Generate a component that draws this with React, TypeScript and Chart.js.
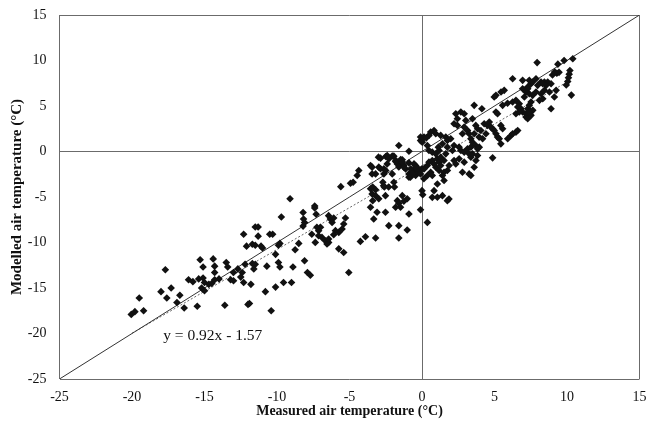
import { useEffect, useRef } from "react";
import { Chart, registerables } from "chart.js";

Chart.register(...registerables);

const axisMin = -25;
const axisMax = 15;
const tickStep = 5;
const xTitle = "Measured air temperature (°C)";
const yTitle = "Modelled air temperature (°C)";
const fitSlope = 0.92;
const fitIntercept = -1.57;
const fitFrom = -20;
const fitTo = 10.3;
const fitLabel = "y = 0.92x - 1.57";
const fitLabelAt = [-17.85, -20.3];

const coldPoints: number[][] = [
  [-20.05, -17.9], [-19.8, -17.6], [-19.2, -17.5], [-19.5, -16.1], [-18.0, -15.4], [-17.6, -16.1],
  [-17.3, -15.0], [-17.7, -13.0], [-16.7, -15.8], [-16.9, -16.6], [-16.4, -17.2], [-15.5, -17.0],
  [-16.1, -14.1], [-15.8, -14.3], [-15.4, -14.0], [-15.1, -13.9], [-15.0, -14.4], [-14.7, -14.6],
  [-15.2, -15.0], [-15.0, -15.3], [-14.5, -14.5], [-14.3, -14.1], [-14.0, -14.0], [-15.3, -11.9],
  [-14.4, -11.8], [-15.1, -12.7], [-14.3, -12.6], [-14.3, -13.3], [-13.5, -12.2], [-13.4, -12.7],
  [-13.0, -13.3], [-13.2, -14.1], [-13.0, -14.2], [-12.7, -12.9], [-12.4, -13.3], [-12.2, -12.4],
  [-12.5, -13.8], [-12.3, -14.4], [-11.8, -14.6], [-11.7, -12.3], [-11.5, -12.4], [-11.6, -12.9],
  [-10.7, -12.6], [-9.9, -12.2], [-9.8, -12.7], [-10.1, -11.3], [-12.3, -9.1], [-11.5, -8.3],
  [-11.3, -8.3], [-11.3, -9.3], [-10.5, -9.1], [-10.3, -9.1], [-12.1, -10.4], [-11.7, -10.2],
  [-11.5, -10.3], [-11.1, -10.4], [-11.0, -10.6], [-9.9, -10.3], [-9.8, -10.1], [-8.5, -10.1],
  [-8.75, -10.8], [-8.2, -8.2], [-8.1, -7.8], [-10.8, -15.4], [-10.4, -17.5], [-11.9, -16.7],
  [-13.6, -16.9], [-12.0, -16.8], [-10.1, -14.9], [-9.55, -14.4], [-9.0, -14.4], [-8.9, -12.7],
  [-8.1, -12.0], [-7.9, -13.3], [-7.7, -13.6], [-7.6, -9.1], [-9.1, -5.2], [-9.7, -7.2],
  [-8.2, -6.7], [-8.17, -7.42],
];

const coolPoints: number[][] = [
  [-7.4, -6.0], [-7.4, -6.2], [-7.3, -6.9], [-6.44, -7.05], [-6.32, -7.42], [-6.09, -7.3],
  [-6.2, -7.79], [-5.28, -7.3], [-5.4, -7.97], [-5.51, -8.52], [-5.74, -8.89], [-5.97, -8.7],
  [-6.09, -9.15], [-7.0, -8.33], [-7.25, -8.33], [-7.13, -8.7], [-7.13, -9.26], [-6.9, -9.44],
  [-7.36, -9.99], [-6.67, -9.8], [-6.44, -9.99], [-6.55, -10.17], [-6.44, -9.62], [-5.74, -10.7],
  [-5.4, -11.1], [-5.05, -13.3], [-4.36, -2.09], [-4.47, -2.64], [-4.93, -3.49], [-5.6, -3.86],
  [-4.75, -3.38], [-4.25, -9.88], [-3.9, -9.37], [-3.2, -9.5],
];

const nearZeroPoints: number[][] = [
  [-1.6, 0.66], [-0.9, 0.03], [-0.1, 1.6], [-0.1, 1.2], [-3.0, -0.62], [-2.5, -0.55],
  [-2.4, -1.36], [-2.05, -0.5], [-1.8, -1.0], [-1.7, -1.36], [-1.47, -1.2], [-1.36, -0.9],
  [-1.25, -1.5], [-1.6, -1.7], [-3.55, -1.54], [-3.44, -2.46], [-3.2, -2.46], [-2.63, -2.46],
  [-2.7, -3.38], [-2.65, -3.75], [-2.05, -2.46], [-1.94, -3.38], [-1.13, -1.91], [-0.9, -2.46],
  [-0.8, -2.83], [-0.55, -2.09], [-0.44, -2.64], [-0.3, -2.28], [-0.21, -1.95], [-0.1, -2.46],
  [0.0, -1.9], [0.0, -4.3], [0.05, -4.74], [-0.1, -6.4], [-3.55, -4.1], [-3.44, -4.66],
  [-3.2, -4.85], [-3.4, -5.4], [-2.98, -5.2], [-2.52, -4.85], [-1.7, -5.4], [-1.6, -5.69],
  [-1.36, -4.85], [-1.25, -5.47], [-1.02, -5.2], [-0.9, -6.87], [-1.48, -6.13], [-1.82, -6.13],
  [-3.55, -6.13], [-3.1, -6.68], [-3.33, -7.42], [-2.52, -6.68], [-2.29, -8.15], [-1.6, -8.15],
  [-1.02, -8.63], [-1.6, -9.5], [-2.86, -0.73], [-2.4, -0.44], [-2.28, -0.8], [-1.94, -0.51],
  [-1.82, -1.1], [-1.47, -0.88], [-1.36, -1.17], [-1.25, -1.72], [-0.9, -1.25], [-0.78, -1.9],
  [-0.44, -1.54], [-0.32, -1.9], [-0.67, -2.46], [-0.9, -2.82], [-3.44, -1.72], [-2.98, -1.72],
  [-2.86, -1.9], [-2.63, -1.9], [-2.5, -2.1], [-3.4, -3.9], [-3.2, -4.2], [-2.6, -3.9],
  [-2.3, -3.9], [-1.9, -3.9], [-0.55, -1.36], [-0.44, -1.73],
];

const warmPoints: number[][] = [
  [2.33, 4.15], [2.68, 4.34], [2.91, 4.15], [2.44, 3.6], [2.21, 3.05], [2.44, 2.87],
  [3.02, 3.42], [2.91, 2.68], [3.14, 2.31], [3.25, 1.95], [3.37, 1.4], [3.48, 3.6],
  [3.6, 5.07], [0.6, 2.13], [0.83, 2.31], [0.95, 1.95], [0.48, 1.77], [0.14, 1.58],
  [0.02, 1.03], [0.37, 0.66], [1.29, 1.77], [1.64, 1.58], [1.75, 1.21], [1.98, 1.4],
  [1.41, 0.84], [1.75, 0.48], [2.21, 0.66], [2.1, 0.11], [2.56, 0.48], [2.68, 0.11],
  [2.91, -0.07], [3.14, 0.29], [3.25, -0.26], [3.37, -0.62], [0.14, -1.91], [0.37, -1.54],
  [0.48, -1.17], [0.71, -0.99], [0.83, -1.36], [1.06, -0.81], [1.18, -1.17], [0.95, -1.73],
  [1.18, -2.09], [1.29, -1.54], [0.6, -2.28], [0.71, -2.64], [0.37, -2.64], [1.52, -2.28],
  [1.75, -2.09], [1.41, -2.64], [1.52, -3.19], [0.83, -4.3], [1.06, -5.03], [1.41, -4.85],
  [1.75, -5.4], [1.86, -5.22], [0.37, -7.79], [2.79, -2.28], [3.25, -2.46], [3.6, -1.73],
  [2.91, -1.17], [2.21, -0.99], [0.13, -3.0], [1.06, -3.57], [0.71, -5.04], [0.48, 0.11],
  [0.71, -0.07], [0.95, -0.26], [1.18, 0.11], [1.29, -0.62], [1.52, -0.99], [1.64, -0.26],
  [1.87, -1.54], [2.33, -1.36], [2.56, -0.81], [0.1, 1.45], [0.3, 1.5], [1.13, 0.48],
  [2.79, 1.95], [3.07, 2.39],
];

const hotPoints: number[][] = [
  [3.72, -0.99], [3.83, -0.44], [3.95, 0.48], [4.87, -0.7], [5.1, 4.34], [5.21, 4.15],
  [6.25, 8.0], [6.94, 7.82], [5.67, 6.72], [5.45, 6.54], [4.98, 5.99], [5.1, 6.17],
  [4.13, 4.7], [5.56, 5.07], [6.25, 5.44], [6.48, 5.62], [6.71, 5.25], [6.6, 4.89],
  [6.83, 4.7], [6.94, 4.34], [7.17, 4.15], [7.29, 4.7], [7.52, 5.44], [7.06, 5.99],
  [6.94, 6.9], [7.29, 7.09], [7.52, 7.45], [3.71, 2.87], [3.83, 2.5], [4.06, 2.31],
  [4.29, 3.05], [4.52, 2.87], [4.64, 3.23], [4.75, 2.68], [4.87, 2.5], [4.98, 2.31],
  [5.1, 1.95], [5.21, 1.58], [5.33, 1.4], [5.56, 2.5], [5.44, 2.87], [4.41, 1.95],
  [4.18, 1.4], [3.94, 1.58], [3.6, 1.95], [3.48, 1.03], [3.71, 0.66], [3.83, 0.29],
  [3.37, 0.48], [3.48, -0.26], [3.37, -2.64], [5.44, 0.84], [5.91, 1.4], [6.14, 1.76],
  [6.25, 1.95], [6.48, 2.13], [6.6, 2.31], [5.9, 5.3], [6.48, 4.15], [6.71, 4.34],
  [7.17, 3.79], [7.29, 3.6], [7.52, 3.97], [7.64, 4.52], [7.94, 9.77], [9.37, 9.6],
  [9.8, 10.0], [10.4, 10.2], [9.3, 8.6], [9.45, 8.7], [9.0, 8.4], [9.15, 8.75],
  [10.2, 8.9], [10.15, 8.5], [10.1, 8.1], [10.05, 7.7], [9.95, 7.3], [10.3, 6.2],
  [7.4, 7.82], [7.63, 7.64], [7.86, 8.0], [8.21, 7.64], [8.44, 7.64], [8.67, 7.64],
  [8.9, 7.45], [8.56, 7.27], [8.33, 7.45], [7.98, 7.27], [7.29, 6.9], [7.17, 6.54],
  [7.4, 6.35], [7.63, 6.17], [7.86, 6.54], [8.21, 6.35], [8.44, 6.72], [8.79, 6.54],
  [9.25, 6.72], [9.13, 5.99], [8.33, 5.8], [8.1, 5.62], [7.4, 5.07], [7.4, 4.34],
  [8.9, 4.7],
];

const serif = '"Liberation Serif", "Times New Roman", serif';
const frameColor = "#6b6b6b";

export default function App() {
  const canvasRef = useRef<HTMLCanvasElement>(null);

  useEffect(() => {
    const canvas = canvasRef.current;
    if (!canvas) return;
    const all = [...coldPoints, ...coolPoints, ...nearZeroPoints, ...warmPoints, ...hotPoints];
    const obs = all.map(([x, y]) => ({ x, y }));

    const frameLine = (v: number) =>
      v === axisMin || v === 0 || v === axisMax ? frameColor : "rgba(0,0,0,0)";

    const fitLabelPlugin = {
      id: "fitLabel",
      afterDatasetsDraw(chart: any) {
        const { ctx, scales } = chart;
        ctx.save();
        ctx.font = `15.5px ${serif}`;
        ctx.fillStyle = "#111";
        ctx.textAlign = "left";
        ctx.textBaseline = "middle";
        ctx.fillText(
          fitLabel,
          scales.x.getPixelForValue(fitLabelAt[0]),
          scales.y.getPixelForValue(fitLabelAt[1])
        );
        ctx.restore();
      },
    };

    const chart = new Chart(canvas, {
      type: "scatter",
      data: {
        datasets: [
          {
            label: "obs",
            data: obs,
            pointStyle: "rectRot",
            pointRadius: 3.8,
            pointHoverRadius: 3.8,
            backgroundColor: "#111",
            borderColor: "#111",
            borderWidth: 0,
          },
          {
            label: "1:1",
            type: "line",
            data: [
              { x: axisMin, y: axisMin },
              { x: axisMax, y: axisMax },
            ],
            borderColor: "#333",
            borderWidth: 1,
            pointRadius: 0,
            showLine: true,
            fill: false,
          },
          {
            label: "fit",
            type: "line",
            data: [
              { x: fitFrom, y: fitSlope * fitFrom + fitIntercept },
              { x: fitTo, y: fitSlope * fitTo + fitIntercept },
            ],
            borderColor: "#666",
            borderWidth: 1,
            borderDash: [2, 2],
            pointRadius: 0,
            showLine: true,
            fill: false,
          },
        ],
      } as any,
      options: {
        animation: false,
        responsive: false,
        devicePixelRatio: 1,
        layout: { autoPadding: false, padding: { top: 15, right: 10.5, left: 0, bottom: 0 } },
        plugins: {
          legend: { display: false },
          tooltip: { enabled: false },
        },
        scales: {
          x: {
            type: "linear",
            min: axisMin,
            max: axisMax,
            ticks: {
              stepSize: tickStep,
              font: { family: serif, size: 14 },
              color: "#111",
              padding: 10,
              callback: (v: any) => String(v),
            },
            grid: {
              drawTicks: false,
              color: (ctx: any) => frameLine(ctx.tick?.value),
              lineWidth: 1,
            },
            border: { display: false },
            title: {
              display: true,
              text: xTitle,
              font: { family: serif, size: 14, weight: "bold" },
              color: "#111",
              padding: { top: 0, bottom: 5 },
            },
            afterFit: (s: any) => {
              s.height = 46;
              s.paddingLeft = 0;
              s.paddingRight = 0;
            },
          },
          y: {
            type: "linear",
            min: axisMin,
            max: axisMax,
            ticks: {
              stepSize: tickStep,
              font: { family: serif, size: 14 },
              color: "#111",
              padding: 13,
              callback: (v: any) => String(v),
            },
            grid: {
              drawTicks: false,
              color: (ctx: any) => frameLine(ctx.tick?.value),
              lineWidth: 1,
            },
            border: { display: false },
            title: {
              display: true,
              text: yTitle,
              font: { family: serif, size: 15, weight: "bold" },
              color: "#111",
              padding: { top: 8.5, bottom: 0 },
            },
            afterFit: (s: any) => {
              s.width = 59.5;
              s.paddingTop = 0;
              s.paddingBottom = 0;
            },
          },
        },
      } as any,
      plugins: [fitLabelPlugin],
    });

    return () => chart.destroy();
  }, []);

  return (
    <div style={{ position: "fixed", left: 0, top: 0, width: 650, height: 425, background: "#fff" }}>
      <canvas ref={canvasRef} width={650} height={425} />
    </div>
  );
}
